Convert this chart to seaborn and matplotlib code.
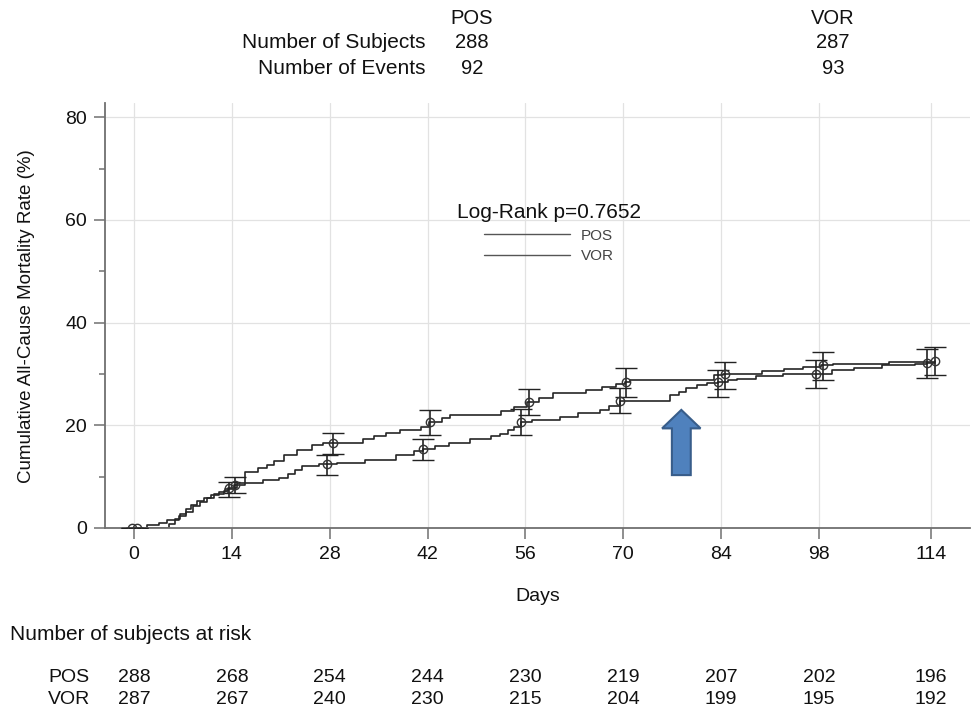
import numpy as np
import pandas as pd
import seaborn as sns
import matplotlib.pyplot as plt
import matplotlib.transforms as mtransforms
from matplotlib.patches import FancyArrow

# summary table
groups = ['POS', 'VOR']
n_subjects = [288, 287]
n_events = [92, 93]
log_rank_p = 0.7652

# Kaplan-Meier step curves (day, cumulative mortality %)
pos_days = [0, 1.8, 3.5, 4.7, 6.5, 7.5, 8.5, 9.5, 10.5, 11.5, 12.8, 13.5, 14.8, 18.4, 20.7,
            22.0, 23.0, 24.0, 26.5, 29.0, 33.0, 37.5, 40.0, 41.4, 43.0, 45.0, 48.0, 51.0,
            52.4, 53.5, 54.3, 55.4, 57.0, 61.0, 63.5, 66.6, 68.0, 69.5, 76.7, 78.0, 79.0,
            80.5, 82.0, 83.5, 85.0, 86.2, 89.0, 92.8, 99.9, 103.0, 107.0, 111.7, 113.4, 114.6]
pos_rate = [0, 0.6, 1.0, 1.5, 2.3, 3.2, 4.2, 5.0, 5.8, 6.6, 7.2, 7.8, 8.8, 9.3, 9.7,
            10.5, 11.3, 12.0, 12.4, 12.6, 13.2, 14.2, 15.0, 15.4, 16.0, 16.5, 17.3, 18.0,
            18.4, 19.1, 19.7, 20.6, 21.0, 21.6, 22.3, 22.9, 23.8, 24.8, 25.9, 26.5, 27.2,
            27.8, 28.2, 28.5, 28.8, 29.1, 29.6, 30.0, 30.7, 31.2, 31.7, 32.0, 32.2, 32.2]

vor_days = [0, 5.0, 5.8, 6.6, 7.4, 8.2, 9.0, 10.0, 11.0, 12.2, 13.0, 14.3, 15.9, 17.8, 19.0,
            20.0, 21.5, 23.3, 25.4, 27.0, 32.8, 34.4, 36.0, 38.0, 41.0, 42.2, 44.0, 45.2,
            52.5, 54.3, 56.2, 58.0, 60.0, 64.7, 67.0, 69.0, 70.2, 71.0, 83.0, 84.3, 89.9,
            93.0, 95.7, 98.3, 100.0, 108.0, 114.6]
vor_rate = [0, 0.8, 1.8, 2.8, 3.6, 4.4, 5.2, 5.8, 6.5, 7.0, 7.6, 8.4, 10.9, 11.6, 12.3,
            13.1, 14.2, 15.2, 16.1, 16.6, 17.4, 17.9, 18.5, 19.0, 19.7, 20.7, 21.4, 22.0,
            22.8, 23.6, 24.6, 25.3, 26.2, 26.8, 27.5, 28.0, 28.5, 28.8, 29.8, 30.0, 30.5,
            30.9, 31.4, 31.7, 32.0, 32.3, 32.5]

# point estimates with 95% CI at landmark days (slightly offset per arm)
pos_ci_days = [-0.3, 13.6, 27.6, 41.4, 55.4, 69.5, 83.5, 97.5, 113.4]
pos_ci_est = [0, 7.8, 12.4, 15.4, 20.6, 24.8, 28.5, 30.0, 32.2]
pos_ci_lo = [0, 6.0, 10.4, 13.2, 18.1, 22.3, 25.5, 27.2, 29.2]
pos_ci_hi = [0, 9.0, 14.2, 17.3, 23.1, 27.2, 30.7, 32.7, 34.8]

vor_ci_days = [0.4, 14.5, 28.5, 42.4, 56.5, 70.4, 84.5, 98.5, 114.6]
vor_ci_est = [0, 8.4, 16.6, 20.7, 24.6, 28.5, 30.0, 31.7, 32.5]
vor_ci_lo = [0, 6.75, 14.4, 18.1, 22.1, 25.5, 27.0, 28.8, 29.8]
vor_ci_hi = [0, 10.0, 18.5, 23.0, 27.0, 31.1, 32.4, 34.2, 35.3]

# number at risk
risk_days = [0, 14, 28, 42, 56, 70, 84, 98, 114]
pos_at_risk = [288, 268, 254, 244, 230, 219, 207, 202, 196]
vor_at_risk = [287, 267, 240, 230, 215, 204, 199, 195, 192]

sns.set_style('ticks')
plt.rcParams['font.family'] = ['Liberation Sans', 'DejaVu Sans']
plt.rcParams['text.color'] = '#111111'
plt.rcParams['axes.labelcolor'] = '#111111'

curves = pd.concat([
    pd.DataFrame({'Days': pos_days, 'Rate': pos_rate, 'Arm': 'POS'}),
    pd.DataFrame({'Days': vor_days, 'Rate': vor_rate, 'Arm': 'VOR'}),
])

fig = plt.figure(figsize=(9.78, 7.13), dpi=100)
ax = fig.add_axes([0.1074, 0.2595, 0.8844, 0.5955])

sns.lineplot(data=curves, x='Days', y='Rate', hue='Arm', estimator=None,
             palette={'POS': '#262626', 'VOR': '#262626'}, drawstyle='steps-post',
             linewidth=1.2, ax=ax)

for d, est, lo, hi in [(pos_ci_days, pos_ci_est, pos_ci_lo, pos_ci_hi),
                       (vor_ci_days, vor_ci_est, vor_ci_lo, vor_ci_hi)]:
    est = np.array(est)
    yerr = [est - np.array(lo), np.array(hi) - est]
    ax.errorbar(d, est, yerr=yerr, fmt='o', mfc='none', mec='#333333', ms=6, mew=1.0,
                ecolor='#222222', elinewidth=1.2, capsize=8, capthick=1.2, zorder=3)

ax.set_xlim(-4.15, 119.6)
ax.set_ylim(0, 82.7)
ax.set_xticks(risk_days)
ax.set_yticks([0, 20, 40, 60, 80])
ax.set_yticks([10, 30, 50, 70], minor=True)
ax.grid(True, which='major', color='#e2e2e2', linewidth=0.9)
ax.set_axisbelow(True)
sns.despine(ax=ax)
for s in ['left', 'bottom']:
    ax.spines[s].set_color('#707070')
    ax.spines[s].set_linewidth(1.3)
ax.tick_params(axis='both', which='major', length=8, width=1.1, color='#707070',
               labelsize=14, pad=5, labelcolor='#111111')
ax.tick_params(axis='y', which='minor', length=4.5, width=1.1, color='#707070')

ax.set_xlabel('Days', fontsize=14, labelpad=18)
ax.set_ylabel('Cumulative All-Cause Mortality Rate (%)', fontsize=13.5, labelpad=22)

# legend
handles, labels = ax.get_legend_handles_labels()
leg = ax.legend(handles, labels, title=f'Log-Rank p={log_rank_p}', frameon=False,
                loc='upper center', bbox_to_anchor=(549 / 978, 1 - 189 / 713),
                bbox_transform=fig.transFigure, fontsize=11, title_fontsize=15,
                handlelength=5.6, handletextpad=0.7, labelspacing=0.45)
for line in leg.get_lines():
    line.set_color('#555555')
    line.set_linewidth(1.0)
for t in leg.get_texts():
    t.set_color('#444444')

# highlight arrow
ax.add_patch(FancyArrow(78.3, 10.3, 0, 12.7, width=2.7, head_width=5.5, head_length=3.6,
                        length_includes_head=True, facecolor='#4f81bd',
                        edgecolor='#385d8a', linewidth=1.5, zorder=4))

# header table
fig.text(0.4346, 1 - 42 / 713, 'Number of Subjects', ha='right', va='center', fontsize=15)
fig.text(0.4346, 1 - 68 / 713, 'Number of Events', ha='right', va='center', fontsize=15)
for cx, g, n, e in zip([472 / 978, 833 / 978], groups, n_subjects, n_events):
    fig.text(cx, 1 - 18 / 713, g, ha='center', va='center', fontsize=14.5)
    fig.text(cx, 1 - 42 / 713, str(n), ha='center', va='center', fontsize=14.5)
    fig.text(cx, 1 - 68 / 713, str(e), ha='center', va='center', fontsize=14.5)

# at-risk table
fig.text(10 / 978, 1 - 634 / 713, 'Number of subjects at risk', ha='left', va='center',
         fontsize=15)
trans = mtransforms.blended_transform_factory(ax.transData, fig.transFigure)
for yrow, g, vals in [(1 - 678 / 713, 'POS', pos_at_risk), (1 - 700 / 713, 'VOR', vor_at_risk)]:
    fig.text(90 / 978, yrow, g, ha='right', va='center', fontsize=14)
    for d, v in zip(risk_days, vals):
        ax.text(d, yrow, str(v), transform=trans, ha='center', va='center', fontsize=14)

fig.savefig('out.png', dpi=100)
